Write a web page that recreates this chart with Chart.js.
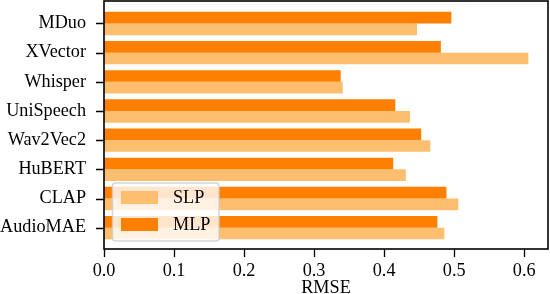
<!DOCTYPE html>
<html><head><meta charset="utf-8">
<script src="https://cdn.jsdelivr.net/npm/chart.js@4/dist/chart.umd.min.js"></script>
<style>html,body{margin:0;padding:0;background:#fff;overflow:hidden}</style>
</head><body>
<canvas id="c" width="550" height="294"></canvas>
<script>
const categories = ['MDuo','XVector','Whisper','UniSpeech','Wav2Vec2','HuBERT','CLAP','AudioMAE'];
const slpValues = [0.447,0.606,0.341,0.437,0.466,0.431,0.506,0.486];
const mlpValues = [0.496,0.481,0.338,0.416,0.453,0.413,0.489,0.476];
const xTickValues = [0,0.1,0.2,0.3,0.4,0.5,0.6];
const seriesNames = ['SLP','MLP'];
const seriesColors = ['#fdbf6f','#ff7f00'];
const xTitle = 'RMSE';

const FONT = 'Liberation Serif, Times New Roman, serif';
const FS = 18.2;
const TICK_LEN = 8;

const toPoints = arr => arr.map((v, i) => ({x: v, y: i}));

const framePlugin = {
  id: 'frameAndLegend',
  afterDatasetsDraw(chart) {
    const {ctx, chartArea: a} = chart;
    const xs = chart.scales.x, ys = chart.scales.y;
    ctx.save();
    ctx.strokeStyle = '#000';
    ctx.lineWidth = 1.3;
    ctx.beginPath();
    xs.ticks.forEach(t => {
      const px = Math.round(xs.getPixelForValue(t.value)) + 0.5;
      ctx.moveTo(px, a.bottom);
      ctx.lineTo(px, a.bottom + TICK_LEN);
    });
    ys.ticks.forEach(t => {
      const py = Math.round(ys.getPixelForValue(t.value)) + 0.5;
      ctx.moveTo(a.left, py);
      ctx.lineTo(a.left - TICK_LEN, py);
    });
    ctx.stroke();
    ctx.lineWidth = 1.6;
    ctx.strokeRect(a.left, a.top, a.right - a.left, a.bottom - a.top);
    ctx.restore();
  },
  afterDraw(chart) {
    const {ctx} = chart;
    const bx = 112.5, by = 183, bw = 106.5, bh = 58, r = 3;
    ctx.save();
    ctx.beginPath();
    ctx.moveTo(bx + r, by);
    ctx.arcTo(bx + bw, by, bx + bw, by + bh, r);
    ctx.arcTo(bx + bw, by + bh, bx, by + bh, r);
    ctx.arcTo(bx, by + bh, bx, by, r);
    ctx.arcTo(bx, by, bx + bw, by, r);
    ctx.closePath();
    ctx.fillStyle = 'rgba(255,255,255,0.8)';
    ctx.fill();
    ctx.strokeStyle = 'rgba(204,204,204,0.8)';
    ctx.lineWidth = 1.5;
    ctx.stroke();
    const entries = seriesNames.map((name, i) => ({name, color: seriesColors[i]}));
    ctx.font = FS + 'px ' + FONT;
    ctx.textBaseline = 'middle';
    ctx.textAlign = 'left';
    entries.forEach((e, i) => {
      const cy = 197.5 + i * 27;
      ctx.fillStyle = e.color;
      ctx.fillRect(121, cy - 6.5, 37, 13);
      ctx.fillStyle = '#000';
      ctx.fillText(e.name, 173, cy + 1);
    });
    ctx.restore();
  }
};

new Chart(document.getElementById('c'), {
  type: 'bar',
  data: {
    datasets: [
      {label: seriesNames[1], data: toPoints(mlpValues), backgroundColor: seriesColors[1]},
      {label: seriesNames[0], data: toPoints(slpValues), backgroundColor: seriesColors[0]}
    ]
  },
  options: {
    indexAxis: 'y',
    responsive: false,
    animation: false,
    devicePixelRatio: 1,
    layout: {padding: {left: 0, right: 2, top: 1, bottom: 0}},
    plugins: {legend: {display: false}, tooltip: {enabled: false}},
    datasets: {bar: {borderWidth: 0, categoryPercentage: 0.8, barPercentage: 1.0}},
    scales: {
      x: {
        type: 'linear',
        position: 'bottom',
        min: 0,
        max: 0.634,
        offset: false,
        afterBuildTicks: s => { s.ticks = xTickValues.map(v => ({value: v})); },
        afterFit: s => { s.height = 45; s.paddingLeft = 0; s.paddingRight = 0; },
        ticks: {
          color: '#000',
          font: {family: FONT, size: FS},
          padding: 11,
          maxRotation: 0,
          autoSkip: false,
          callback: v => Number(v).toFixed(1)
        },
        grid: {offset: false, display: false, drawTicks: false},
        border: {display: false},
        title: {display: true, text: xTitle, color: '#000', font: {family: FONT, size: FS}, padding: {top: 0, bottom: -5}}
      },
      y: {
        type: 'linear',
        position: 'left',
        reverse: true,
        offset: false,
        min: -0.77,
        max: 7.73,
        afterBuildTicks: s => { s.ticks = categories.map((c, i) => ({value: i})); },
        afterFit: s => { s.width = 104; s.paddingTop = 0; s.paddingBottom = 0; },
        ticks: {
          color: '#000',
          font: {family: FONT, size: FS},
          padding: 18,
          autoSkip: false,
          callback: v => categories[v]
        },
        grid: {offset: false, display: false, drawTicks: false},
        border: {display: false}
      }
    }
  },
  plugins: [framePlugin]
});
</script>
</body></html>
